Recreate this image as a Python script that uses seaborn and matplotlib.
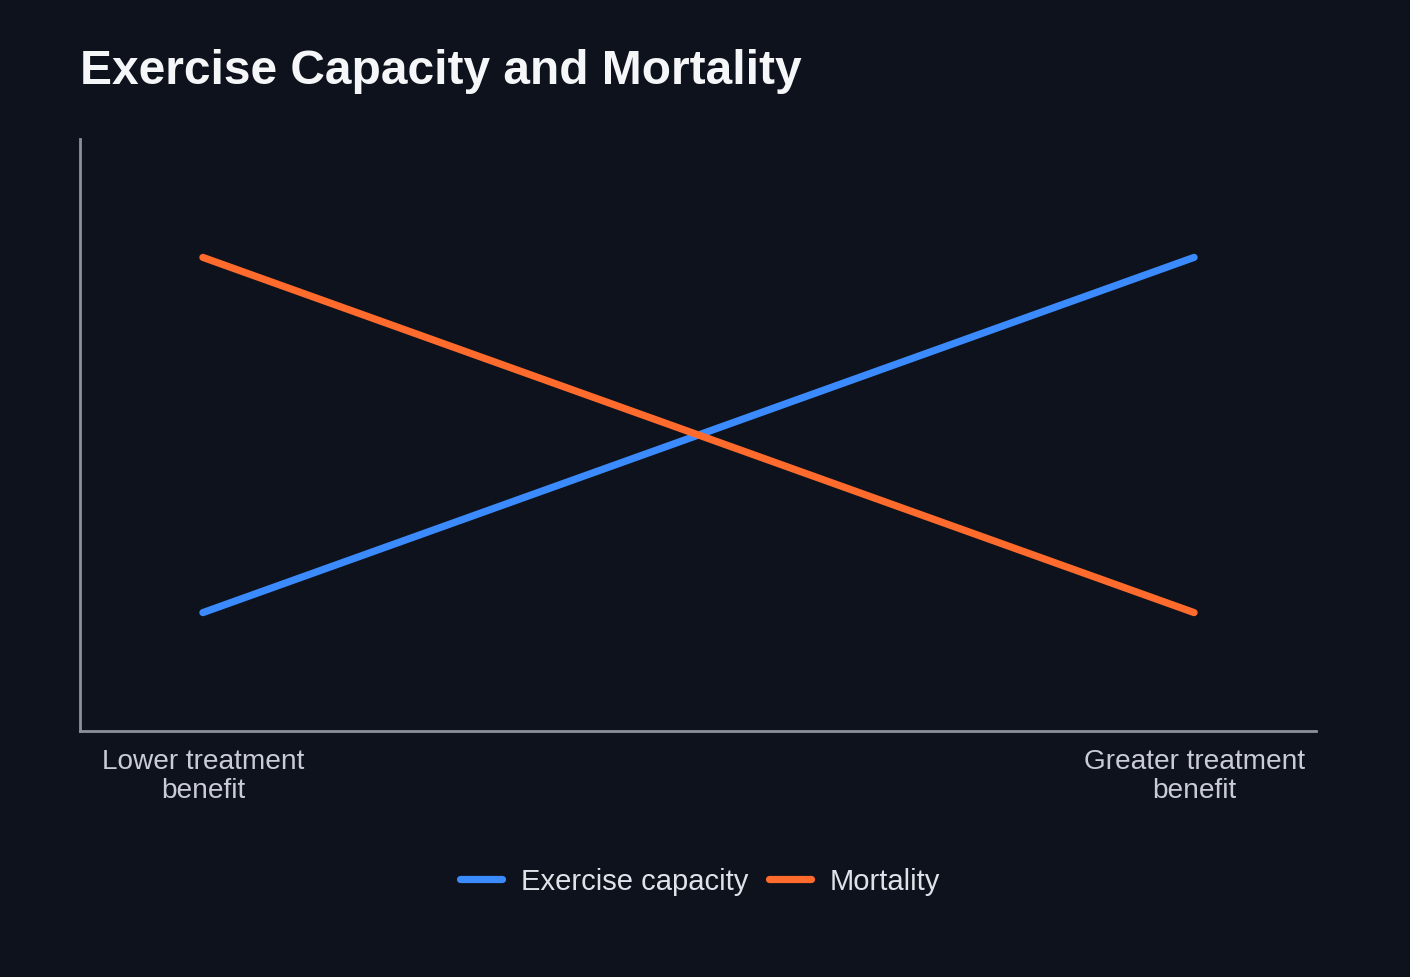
import matplotlib
matplotlib.use("Agg")
import matplotlib.pyplot as plt
import pandas as pd
import seaborn as sns

# ========== DATA ==========
categories = ["Lower treatment\nbenefit", "Greater treatment\nbenefit"]
exercise_capacity = [0.2, 0.8]
mortality = [0.8, 0.2]
series_names = ["Exercise capacity", "Mortality"]
# ==========================

BG = "#0e121c"
COLORS = {"Exercise capacity": "#3b8bff", "Mortality": "#ff6b2c"}
LW = 5.2

df = pd.DataFrame({
    "benefit": categories * 2,
    "value": exercise_capacity + mortality,
    "series": [series_names[0]] * 2 + [series_names[1]] * 2,
})

sns.set_style("dark")
plt.rcParams["font.family"] = ["Liberation Sans", "DejaVu Sans"]

fig = plt.figure(figsize=(14.1, 9.78), dpi=100, facecolor=BG)
ax = fig.add_axes([80 / 1410, 1 - 732 / 978, 1236 / 1410, 592 / 978])
ax.set_facecolor(BG)

sns.lineplot(data=df, x="benefit", y="value", hue="series", palette=COLORS,
             linewidth=LW, solid_capstyle="round", sort=False, ax=ax, legend=False)

ax.set_xlim(-0.124, 1.123)
ax.set_ylim(0, 1)
ax.set_xlabel("")
ax.set_ylabel("")
ax.set_yticks([])
ax.set_xticks([0, 1])
ax.set_xticklabels(categories, fontsize=20.2, color="#c9ccd6", linespacing=1.15)
ax.tick_params(axis="x", length=0, pad=12)
ax.grid(False)

for side in ["top", "right"]:
    ax.spines[side].set_visible(False)
for side in ["left", "bottom"]:
    ax.spines[side].set_visible(True)
    ax.spines[side].set_color("#8b909a")
    ax.spines[side].set_linewidth(2.0)

fig.text(80 / 1410, 1 - 71 / 978, "Exercise Capacity and Mortality",
         fontsize=34.5, fontweight="bold", color="#f5f6f8", ha="left", va="center")

handles = [plt.Line2D([0], [0], color=COLORS[n], linewidth=LW, solid_capstyle="round")
           for n in series_names]
fig.legend(handles, series_names, loc="center", bbox_to_anchor=(0.4965, 1 - 882 / 978),
           ncol=2, frameon=False, fontsize=21, labelcolor="#dfe2e8",
           handlelength=1.45, handletextpad=0.65, columnspacing=0.7)

fig.savefig("out.png", dpi=100, facecolor=BG)
